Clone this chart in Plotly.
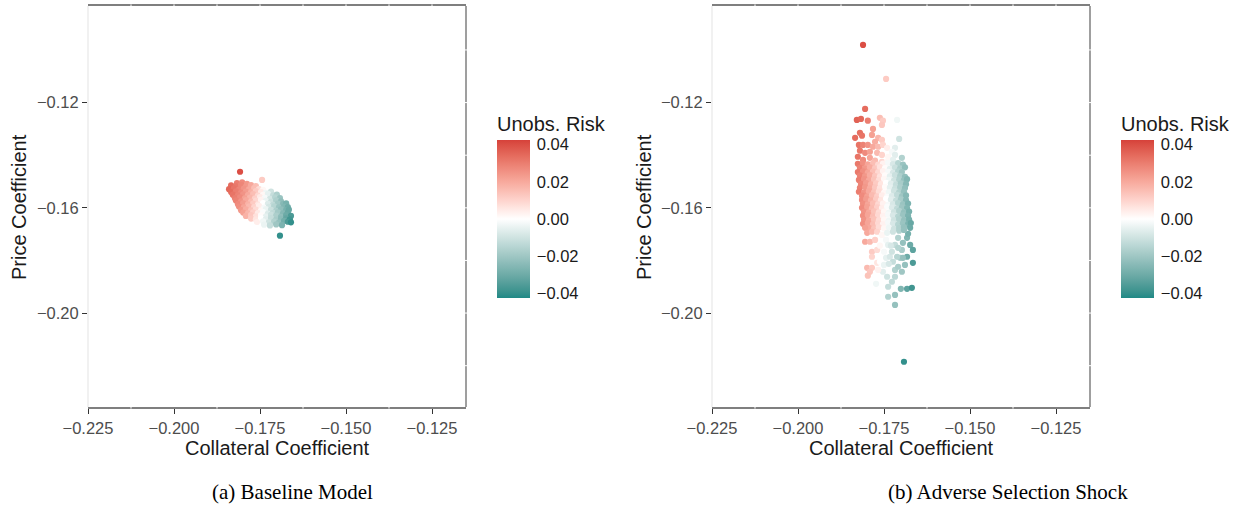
import numpy as np
import plotly.graph_objects as go

# ---------------- Panel (a): Baseline Model ----------------
base_collateral = [
    -0.1817, -0.1802, -0.1788,
    -0.1834, -0.1820, -0.1805, -0.1791, -0.1776, -0.1762,
    -0.1840, -0.1826, -0.1811, -0.1797, -0.1782, -0.1767, -0.1753, -0.1741,
    -0.1834, -0.1820, -0.1805, -0.1791, -0.1776, -0.1762, -0.1747, -0.1733, -0.1718,
    -0.1829, -0.1814, -0.1799, -0.1785, -0.1770, -0.1756, -0.1741, -0.1727, -0.1712, -0.1701,
    -0.1823, -0.1808, -0.1794, -0.1779, -0.1765, -0.1750, -0.1736, -0.1721, -0.1706, -0.1692,
    -0.1820, -0.1805, -0.1791, -0.1776, -0.1762, -0.1747, -0.1733, -0.1718, -0.1703, -0.1689,
    -0.1814, -0.1799, -0.1785, -0.1770, -0.1756, -0.1741, -0.1727, -0.1712, -0.1698, -0.1683, -0.1674,
    -0.1811, -0.1797, -0.1782, -0.1767, -0.1753, -0.1738, -0.1724, -0.1709, -0.1695, -0.1680, -0.1669,
    -0.1805, -0.1791, -0.1776, -0.1762, -0.1747, -0.1733, -0.1718, -0.1703, -0.1689, -0.1674, -0.1666,
    -0.1799, -0.1785, -0.1770, -0.1756, -0.1741, -0.1727, -0.1712, -0.1698, -0.1683, -0.1669,
    -0.1791, -0.1776, -0.1762, -0.1747, -0.1733, -0.1718, -0.1703, -0.1689, -0.1674, -0.1660,
    -0.1776, -0.1762, -0.1747, -0.1733, -0.1718, -0.1703, -0.1689, -0.1674, -0.1663,
    -0.1759, -0.1741, -0.1724, -0.1709, -0.1695, -0.1680, -0.1669, -0.1660,
    -0.1738, -0.1721, -0.1703, -0.1686,
    -0.1808, -0.1744, -0.1692,
]
base_price = [
    -0.1506, -0.1503, -0.1509,
    -0.1515, -0.1518, -0.1513, -0.1519, -0.1514, -0.1517,
    -0.1529, -0.1526, -0.1531, -0.1527, -0.1530, -0.1525, -0.1529, -0.1532,
    -0.1540, -0.1537, -0.1542, -0.1538, -0.1541, -0.1536, -0.1540, -0.1543, -0.1538,
    -0.1550, -0.1553, -0.1549, -0.1552, -0.1548, -0.1554, -0.1551, -0.1547, -0.1553, -0.1550,
    -0.1563, -0.1560, -0.1564, -0.1561, -0.1565, -0.1559, -0.1562, -0.1566, -0.1560, -0.1563,
    -0.1572, -0.1575, -0.1571, -0.1576, -0.1573, -0.1570, -0.1574, -0.1577, -0.1572, -0.1575,
    -0.1586, -0.1583, -0.1587, -0.1584, -0.1588, -0.1582, -0.1585, -0.1589, -0.1584, -0.1586, -0.1583,
    -0.1595, -0.1598, -0.1594, -0.1597, -0.1593, -0.1599, -0.1596, -0.1594, -0.1598, -0.1595, -0.1597,
    -0.1609, -0.1606, -0.1610, -0.1607, -0.1611, -0.1605, -0.1608, -0.1612, -0.1606, -0.1609, -0.1607,
    -0.1618, -0.1621, -0.1617, -0.1620, -0.1616, -0.1622, -0.1619, -0.1617, -0.1621, -0.1618,
    -0.1631, -0.1628, -0.1632, -0.1629, -0.1633, -0.1627, -0.1630, -0.1634, -0.1628, -0.1631,
    -0.1641, -0.1644, -0.1640, -0.1643, -0.1639, -0.1645, -0.1642, -0.1640, -0.1644,
    -0.1654, -0.1651, -0.1655, -0.1652, -0.1656, -0.1650, -0.1653, -0.1655,
    -0.1664, -0.1667, -0.1663, -0.1666,
    -0.1463, -0.1494, -0.1706,
]
base_risk = [
    0.030, 0.027, 0.024,
    0.034, 0.031, 0.028, 0.024, 0.020, 0.015,
    0.035, 0.032, 0.028, 0.025, 0.020, 0.015, 0.008, 0.002,
    0.034, 0.030, 0.027, 0.023, 0.018, 0.012, 0.005, -0.003, -0.010,
    0.032, 0.029, 0.025, 0.020, 0.015, 0.009, 0.002, -0.005, -0.012, -0.017,
    0.030, 0.027, 0.022, 0.017, 0.011, 0.005, -0.002, -0.009, -0.015, -0.021,
    0.029, 0.025, 0.020, 0.015, 0.009, 0.003, -0.004, -0.011, -0.017, -0.023,
    0.027, 0.023, 0.018, 0.012, 0.006, 0.000, -0.007, -0.013, -0.019, -0.025, -0.028,
    0.026, 0.021, 0.016, 0.010, 0.004, -0.002, -0.009, -0.015, -0.021, -0.026, -0.030,
    0.024, 0.019, 0.014, 0.008, 0.002, -0.004, -0.011, -0.017, -0.023, -0.028, -0.031,
    0.022, 0.017, 0.011, 0.005, -0.001, -0.007, -0.013, -0.019, -0.025, -0.031,
    0.018, 0.013, 0.007, 0.001, -0.005, -0.011, -0.017, -0.023, -0.030, -0.036,
    0.012, 0.006, 0.000, -0.006, -0.012, -0.018, -0.024, -0.032, -0.038,
    0.004, -0.003, -0.010, -0.016, -0.022, -0.029, -0.036, -0.040,
    -0.004, -0.012, -0.020, -0.027,
    0.040, 0.012, -0.040,
]

# ---------------- Panel (b): Adverse Selection Shock ----------------
shock_collateral = [
    # upper tail
    -0.1805, -0.1829, -0.1817, -0.1797, -0.1762, -0.1753, -0.1756, -0.1712,
    -0.1782, -0.1820, -0.1814, -0.1834, -0.1785, -0.1767, -0.1776, -0.1756, -0.1706,
    -0.1823, -0.1811, -0.1797, -0.1782, -0.1767, -0.1753, -0.1741, -0.1718, -0.1727,
    -0.1820, -0.1805, -0.1791, -0.1770, -0.1756, -0.1738, -0.1718, -0.1698,
    -0.1826, -0.1811, -0.1791, -0.1776, -0.1756, -0.1741, -0.1724,
    # core
    -0.1826, -0.1811, -0.1797, -0.1782, -0.1767, -0.1753, -0.1738, -0.1724, -0.1709, -0.1695,
    -0.1820, -0.1805, -0.1791, -0.1776, -0.1762, -0.1747, -0.1733, -0.1718, -0.1703, -0.1689,
    -0.1826, -0.1811, -0.1797, -0.1782, -0.1767, -0.1753, -0.1738, -0.1724, -0.1709, -0.1698,
    -0.1820, -0.1805, -0.1791, -0.1776, -0.1762, -0.1747, -0.1733, -0.1718, -0.1703, -0.1689,
    -0.1823, -0.1808, -0.1794, -0.1779, -0.1765, -0.1750, -0.1736, -0.1721, -0.1706, -0.1692, -0.1683,
    -0.1817, -0.1802, -0.1788, -0.1773, -0.1759, -0.1744, -0.1730, -0.1715, -0.1701, -0.1686,
    -0.1820, -0.1805, -0.1791, -0.1776, -0.1762, -0.1747, -0.1733, -0.1718, -0.1703, -0.1689,
    -0.1823, -0.1808, -0.1794, -0.1779, -0.1765, -0.1750, -0.1736, -0.1721, -0.1706, -0.1692,
    -0.1814, -0.1799, -0.1785, -0.1770, -0.1756, -0.1741, -0.1727, -0.1712, -0.1698, -0.1686,
    -0.1814, -0.1802, -0.1788, -0.1773, -0.1759, -0.1744, -0.1730, -0.1715, -0.1701, -0.1686,
    -0.1811, -0.1797, -0.1782, -0.1767, -0.1753, -0.1738, -0.1724, -0.1709, -0.1695, -0.1680,
    -0.1814, -0.1799, -0.1785, -0.1770, -0.1756, -0.1741, -0.1727, -0.1712, -0.1698, -0.1683,
    -0.1808, -0.1794, -0.1779, -0.1765, -0.1750, -0.1736, -0.1721, -0.1706, -0.1692, -0.1677,
    -0.1811, -0.1797, -0.1782, -0.1767, -0.1753, -0.1738, -0.1724, -0.1709, -0.1695, -0.1680,
    -0.1808, -0.1794, -0.1779, -0.1765, -0.1750, -0.1736, -0.1721, -0.1706, -0.1692, -0.1677,
    -0.1811, -0.1797, -0.1782, -0.1767, -0.1753, -0.1738, -0.1724, -0.1709, -0.1695, -0.1680, -0.1672,
    -0.1794, -0.1779, -0.1765, -0.1750, -0.1736, -0.1721, -0.1706, -0.1692,
    # lower tail
    -0.1805, -0.1799, -0.1785, -0.1770, -0.1805, -0.1791, -0.1776, -0.1785, -0.1770, -0.1785,
    -0.1799, -0.1785, -0.1791, -0.1770, -0.1773,
    -0.1756, -0.1744, -0.1762, -0.1750, -0.1738, -0.1756, -0.1744, -0.1733, -0.1727, -0.1718,
    -0.1709, -0.1698, -0.1703,
    -0.1753, -0.1741, -0.1727, -0.1718, -0.1718, -0.1709, -0.1698, -0.1689, -0.1738, -0.1738,
    -0.1718, -0.1701, -0.1683, -0.1669, -0.1718,
    -0.1674, -0.1683, -0.1674, -0.1666, -0.1683, -0.1666, -0.1680, -0.1695, -0.1724, -0.1762,
    -0.1767, -0.1750, -0.1736, -0.1695, -0.1712,
    -0.1741, -0.1724, -0.1706, -0.1692, -0.1797, -0.1730, -0.1709,
    # isolated draws
    -0.1811, -0.1744, -0.1692,
]
shock_price = [
    -0.1224, -0.1266, -0.1262, -0.1269, -0.1258, -0.1269, -0.1285, -0.1266,
    -0.1300, -0.1315, -0.1326, -0.1334, -0.1323, -0.1334, -0.1349, -0.1342, -0.1338,
    -0.1361, -0.1361, -0.1361, -0.1368, -0.1368, -0.1361, -0.1372, -0.1372, -0.1387,
    -0.1383, -0.1391, -0.1387, -0.1391, -0.1399, -0.1406, -0.1399, -0.1410,
    -0.1406, -0.1418, -0.1410, -0.1421, -0.1425, -0.1425, -0.1418,
    -0.1433, -0.1430, -0.1435, -0.1431, -0.1436, -0.1432, -0.1429, -0.1434, -0.1430, -0.1436,
    -0.1448, -0.1451, -0.1446, -0.1450, -0.1445, -0.1449, -0.1452, -0.1447, -0.1450, -0.1446,
    -0.1464, -0.1461, -0.1466, -0.1462, -0.1465, -0.1460, -0.1463, -0.1467, -0.1461, -0.1464,
    -0.1477, -0.1480, -0.1476, -0.1479, -0.1481, -0.1477, -0.1480, -0.1476, -0.1479, -0.1482,
    -0.1494, -0.1491, -0.1496, -0.1492, -0.1495, -0.1490, -0.1494, -0.1497, -0.1492, -0.1495, -0.1491,
    -0.1509, -0.1506, -0.1511, -0.1507, -0.1510, -0.1505, -0.1508, -0.1512, -0.1507, -0.1510,
    -0.1524, -0.1521, -0.1526, -0.1522, -0.1525, -0.1520, -0.1523, -0.1527, -0.1522, -0.1525,
    -0.1539, -0.1542, -0.1537, -0.1541, -0.1538, -0.1543, -0.1540, -0.1536, -0.1541, -0.1538,
    -0.1554, -0.1557, -0.1552, -0.1556, -0.1553, -0.1558, -0.1555, -0.1551, -0.1556, -0.1553,
    -0.1570, -0.1567, -0.1572, -0.1568, -0.1571, -0.1566, -0.1569, -0.1573, -0.1568, -0.1571,
    -0.1585, -0.1588, -0.1583, -0.1587, -0.1584, -0.1589, -0.1586, -0.1582, -0.1587, -0.1584,
    -0.1600, -0.1597, -0.1602, -0.1598, -0.1601, -0.1596, -0.1599, -0.1603, -0.1598, -0.1601,
    -0.1615, -0.1618, -0.1613, -0.1617, -0.1614, -0.1619, -0.1616, -0.1612, -0.1617, -0.1614,
    -0.1630, -0.1627, -0.1632, -0.1628, -0.1631, -0.1626, -0.1629, -0.1633, -0.1628, -0.1631,
    -0.1646, -0.1649, -0.1644, -0.1648, -0.1645, -0.1650, -0.1647, -0.1643, -0.1648, -0.1645,
    -0.1661, -0.1658, -0.1663, -0.1659, -0.1662, -0.1657, -0.1660, -0.1664, -0.1659, -0.1662, -0.1658,
    -0.1676, -0.1679, -0.1674, -0.1678, -0.1675, -0.1680, -0.1677, -0.1673,
    -0.1676, -0.1695, -0.1691, -0.1691, -0.1729, -0.1729, -0.1722, -0.1767, -0.1760, -0.1786,
    -0.1828, -0.1828, -0.1843, -0.1809, -0.1889,
    -0.1703, -0.1722, -0.1744, -0.1767, -0.1741, -0.1790, -0.1790, -0.1786, -0.1767, -0.1741,
    -0.1714, -0.1760, -0.1790,
    -0.1843, -0.1862, -0.1881, -0.1862, -0.1836, -0.1824, -0.1843, -0.1817, -0.1900, -0.1938,
    -0.1931, -0.1908, -0.1908, -0.1904, -0.1969,
    -0.1676, -0.1714, -0.1741, -0.1760, -0.1786, -0.1809, -0.1699, -0.1733, -0.1805, -0.1805,
    -0.1836, -0.1817, -0.1813, -0.1790, -0.1786,
    -0.1695, -0.1691, -0.1687, -0.1684, -0.1858, -0.1744, -0.1752,
    -0.0981, -0.1110, -0.2185,
]
shock_risk = [
    0.034, 0.036, 0.035, 0.030, 0.015, 0.012, 0.013, -0.003,
    0.022, 0.033, 0.032, 0.034, 0.022, 0.017, 0.019, 0.012, -0.010,
    0.032, 0.029, 0.025, 0.020, 0.016, 0.010, 0.004, -0.006, -0.002,
    0.031, 0.027, 0.022, 0.016, 0.010, 0.002, -0.006, -0.016,
    0.032, 0.027, 0.021, 0.016, 0.009, 0.002, -0.005,
    0.031, 0.026, 0.021, 0.015, 0.009, 0.003, -0.002, -0.008, -0.015, -0.021,
    0.029, 0.024, 0.019, 0.013, 0.007, 0.001, -0.005, -0.011, -0.017, -0.023,
    0.031, 0.026, 0.021, 0.015, 0.009, 0.003, -0.002, -0.008, -0.015, -0.020,
    0.029, 0.024, 0.019, 0.013, 0.007, 0.001, -0.005, -0.011, -0.017, -0.023,
    0.030, 0.025, 0.020, 0.014, 0.008, 0.002, -0.003, -0.010, -0.016, -0.022, -0.026,
    0.028, 0.023, 0.018, 0.012, 0.006, 0.000, -0.006, -0.012, -0.018, -0.025,
    0.029, 0.024, 0.019, 0.013, 0.007, 0.001, -0.005, -0.011, -0.017, -0.023,
    0.030, 0.025, 0.020, 0.014, 0.008, 0.002, -0.003, -0.010, -0.016, -0.022,
    0.027, 0.022, 0.016, 0.011, 0.004, -0.001, -0.007, -0.013, -0.020, -0.025,
    0.027, 0.023, 0.018, 0.012, 0.006, 0.000, -0.006, -0.012, -0.018, -0.025,
    0.026, 0.021, 0.015, 0.009, 0.003, -0.002, -0.008, -0.015, -0.021, -0.027,
    0.027, 0.022, 0.016, 0.011, 0.004, -0.001, -0.007, -0.013, -0.020, -0.026,
    0.025, 0.020, 0.014, 0.008, 0.002, -0.003, -0.010, -0.016, -0.022, -0.028,
    0.026, 0.021, 0.015, 0.009, 0.003, -0.002, -0.008, -0.015, -0.021, -0.027,
    0.025, 0.020, 0.014, 0.008, 0.002, -0.003, -0.010, -0.016, -0.022, -0.028,
    0.026, 0.021, 0.015, 0.009, 0.003, -0.002, -0.008, -0.015, -0.021, -0.027, -0.031,
    0.020, 0.014, 0.008, 0.002, -0.003, -0.010, -0.016, -0.022,
    0.022, 0.020, 0.016, 0.010, 0.020, 0.016, 0.011, 0.012, 0.008, 0.010,
    0.016, 0.012, 0.013, 0.006, -0.003,
    0.002, -0.002, 0.002, -0.002, -0.005, 0.000, -0.005, -0.008, -0.010, -0.012,
    -0.016, -0.018, -0.018,
    -0.006, -0.010, -0.013, -0.014, -0.016, -0.018, -0.020, -0.022, -0.012, -0.016,
    -0.022, -0.026, -0.033, -0.038, -0.022,
    -0.030, -0.026, -0.030, -0.033, -0.030, -0.036, -0.028, -0.022, -0.012, 0.000,
    0.003, -0.004, -0.008, -0.022, -0.015,
    -0.004, -0.010, -0.016, -0.022, 0.014, -0.008, -0.015,
    0.040, 0.012, -0.040,
]

assert len(base_collateral) == len(base_price) == len(base_risk)
assert len(shock_collateral) == len(shock_price) == len(shock_risk)

# ---------------- Axes, legend and caption text ----------------
x_ticks = [-0.225, -0.200, -0.175, -0.150, -0.125]
x_tick_labels = ["\u22120.225", "\u22120.200", "\u22120.175", "\u22120.150", "\u22120.125"]
x_minor = [-0.2125, -0.1875, -0.1625, -0.1375]
y_ticks = [-0.20, -0.16, -0.12]
y_tick_labels = ["\u22120.20", "\u22120.16", "\u22120.12"]
y_minor = [-0.22, -0.18, -0.14, -0.10]
risk_ticks = [-0.04, -0.02, 0.0, 0.02, 0.04]
risk_tick_labels = ["\u22120.04", "\u22120.02", "0.00", "0.02", "0.04"]
x_title = "Collateral Coefficient"
y_title = "Price Coefficient"
legend_title = "Unobs. Risk"
captions = ["(a) Baseline Model", "(b) Adverse Selection Shock"]

X_RANGE = [-0.225, -0.11512]
Y_RANGE = [-0.2357, -0.0833]
RISK_MAX = 0.0424

# ---------------- Diverging palette, interpolated in CIELAB ----------------
LOW, MID, HIGH = "#1f8985", "#ffffff", "#d6413a"
_M = np.array([[0.4124, 0.3576, 0.1805],
               [0.2126, 0.7152, 0.0722],
               [0.0193, 0.1192, 0.9505]])
_WHITE = np.array([0.95047, 1.0, 1.08883])


def to_lab(hexcol):
    rgb = np.array([int(hexcol[i:i + 2], 16) for i in (1, 3, 5)]) / 255.0
    lin = np.where(rgb <= 0.04045, rgb / 12.92, ((rgb + 0.055) / 1.055) ** 2.4)
    t = (_M @ lin) / _WHITE
    f = np.where(t > (6 / 29) ** 3, np.cbrt(t), t / (3 * (6 / 29) ** 2) + 4 / 29)
    return np.array([116 * f[1] - 16, 500 * (f[0] - f[1]), 200 * (f[1] - f[2])])


def from_lab(lab):
    fy = (lab[0] + 16) / 116
    f = np.array([fy + lab[1] / 500, fy, fy - lab[2] / 200])
    t = np.where(f > 6 / 29, f ** 3, 3 * (6 / 29) ** 2 * (f - 4 / 29))
    lin = np.clip(np.linalg.inv(_M) @ (t * _WHITE), 0, 1)
    rgb = np.where(lin <= 0.0031308, 12.92 * lin, 1.055 * lin ** (1 / 2.4) - 0.055)
    r, g, b = np.round(np.clip(rgb, 0, 1) * 255).astype(int)
    return f"rgb({r},{g},{b})"


lab_low, lab_mid, lab_high = to_lab(LOW), to_lab(MID), to_lab(HIGH)
colorscale = []
for s in np.linspace(0, 1, 41):
    if s <= 0.5:
        lab = lab_low + (lab_mid - lab_low) * (s / 0.5)
    else:
        lab = lab_mid + (lab_high - lab_mid) * ((s - 0.5) / 0.5)
    colorscale.append([float(s), from_lab(lab)])

# ---------------- Page geometry (pixels) ----------------
W, H = 1242, 517
PANEL_LEFT = [88, 712]
PANEL_W = 378
PANEL_TOP, PANEL_BOTTOM = 6, 407
CB_LEFT = [497, 1121]
CB_TOP, CB_LEN, CB_THICK = 139, 159, 33
CB_TITLE_H = 26          # room the colour-bar title takes above the bar
CB_TICK = 6

SANS = "Liberation Sans, Arial, sans-serif"
SERIF = "Liberation Serif, Times New Roman, serif"

fig = go.Figure()
for i, (xs, ys, rs) in enumerate([(base_collateral, base_price, base_risk),
                                  (shock_collateral, shock_price, shock_risk)]):
    suffix = "" if i == 0 else "2"
    fig.add_trace(go.Scatter(
        x=xs, y=ys, mode="markers",
        xaxis="x" + suffix, yaxis="y" + suffix,
        marker=dict(color=rs, coloraxis="coloraxis" + suffix, size=6.2,
                    line=dict(width=0), opacity=1),
        showlegend=False, hoverinfo="skip",
    ))

y_domain = [(H - PANEL_BOTTOM) / H, (H - PANEL_TOP) / H]
axis_common = dict(
    ticks="outside", ticklen=5, tickwidth=1.1, tickcolor="#333333",
    tickfont=dict(family=SANS, size=16.5, color="#4d4d4d"),
    showgrid=False, zeroline=False, automargin=False,
)
layout = dict(
    width=W, height=H, autosize=False,
    margin=dict(l=0, r=0, t=0, b=0, pad=0, autoexpand=False),
    paper_bgcolor="white", plot_bgcolor="white",
    showlegend=False,
)
shapes = []
annotations = []
for i in range(2):
    suffix = "" if i == 0 else "2"
    x0 = PANEL_LEFT[i]
    layout["xaxis" + suffix] = dict(
        axis_common, domain=[x0 / W, (x0 + PANEL_W) / W], range=X_RANGE,
        tickvals=x_ticks, ticktext=x_tick_labels, anchor="y" + suffix,
        showline=True, linecolor="#7f7f7f", linewidth=1.5, mirror=True,
    )
    layout["yaxis" + suffix] = dict(
        axis_common, domain=y_domain, range=Y_RANGE,
        tickvals=y_ticks, ticktext=y_tick_labels, anchor="x" + suffix,
        showline=False,
    )
    box_top = CB_TOP - CB_TITLE_H
    box_bottom = CB_TOP + CB_LEN
    layout["coloraxis" + suffix] = dict(
        colorscale=colorscale, cmin=-RISK_MAX, cmax=RISK_MAX,
        colorbar=dict(
            x=CB_LEFT[i] / W, xanchor="left", xpad=0,
            y=1 - (box_top + box_bottom) / 2 / H, yanchor="middle", ypad=0,
            len=box_bottom - box_top, lenmode="pixels", thickness=CB_THICK,
            outlinewidth=0,
            tickvals=risk_ticks, ticktext=risk_tick_labels,
            ticks="outside", ticklen=4, tickwidth=1, tickcolor="rgba(0,0,0,0)",
            tickfont=dict(family=SANS, size=16.5, color="#1a1a1a"),
            title=dict(text=legend_title, side="top",
                       font=dict(family=SANS, size=20, color="#1a1a1a")),
        ),
    )

    xd, yd = "x" + suffix + " domain", "y" + suffix + " domain"
    # panel frame: light left edge, darker right edge
    shapes.append(dict(type="line", xref=xd, yref=yd, x0=0, x1=0, y0=0, y1=1,
                       line=dict(color="#e3e3e3", width=1)))
    shapes.append(dict(type="line", xref=xd, yref=yd, x0=1, x1=1, y0=0, y1=1,
                       line=dict(color="#7f7f7f", width=1.5)))
    # white grid lines cutting through the frame
    xa, ya = "x" + suffix, "y" + suffix
    for gx in x_ticks[1:] + x_minor:
        shapes.append(dict(type="line", xref=xa, yref=yd, x0=gx, x1=gx,
                           y0=0.996, y1=1.004, line=dict(color="white", width=1)))
    for gx in x_minor:
        shapes.append(dict(type="line", xref=xa, yref=yd, x0=gx, x1=gx,
                           y0=-0.004, y1=0.004, line=dict(color="white", width=1)))
    for gy in y_ticks + y_minor:
        shapes.append(dict(type="line", xref=xd, yref=ya, x0=0.996, x1=1.004,
                           y0=gy, y1=gy, line=dict(color="white", width=1)))
    # white tick marks on both edges of the colour bar
    for v in risk_ticks:
        py = CB_TOP + (RISK_MAX - v) / (2 * RISK_MAX) * CB_LEN
        for bx0 in (CB_LEFT[i], CB_LEFT[i] + CB_THICK - CB_TICK):
            shapes.append(dict(type="line", xref="paper", yref="paper",
                               x0=bx0 / W, x1=(bx0 + CB_TICK) / W,
                               y0=1 - py / H, y1=1 - py / H,
                               line=dict(color="white", width=1)))

    cx = (x0 + PANEL_W / 2) / W
    annotations.append(dict(text=x_title, x=cx, y=1 - 448 / H, xref="paper", yref="paper",
                            xanchor="center", yanchor="middle", showarrow=False,
                            font=dict(family=SANS, size=20, color="#1a1a1a")))
    annotations.append(dict(text=y_title, x=(19 + 625 * i) / W, y=1 - 207 / H,
                            xref="paper", yref="paper", textangle=-90,
                            xanchor="center", yanchor="middle", showarrow=False,
                            font=dict(family=SANS, size=20, color="#1a1a1a")))
    annotations.append(dict(text=captions[i], x=(292 + 716 * i) / W, y=1 - 492 / H,
                            xref="paper", yref="paper", xanchor="center",
                            yanchor="middle", showarrow=False,
                            font=dict(family=SERIF, size=21, color="black")))

layout["shapes"] = shapes
layout["annotations"] = annotations
fig.update_layout(**layout)
fig.write_html("out.html")
